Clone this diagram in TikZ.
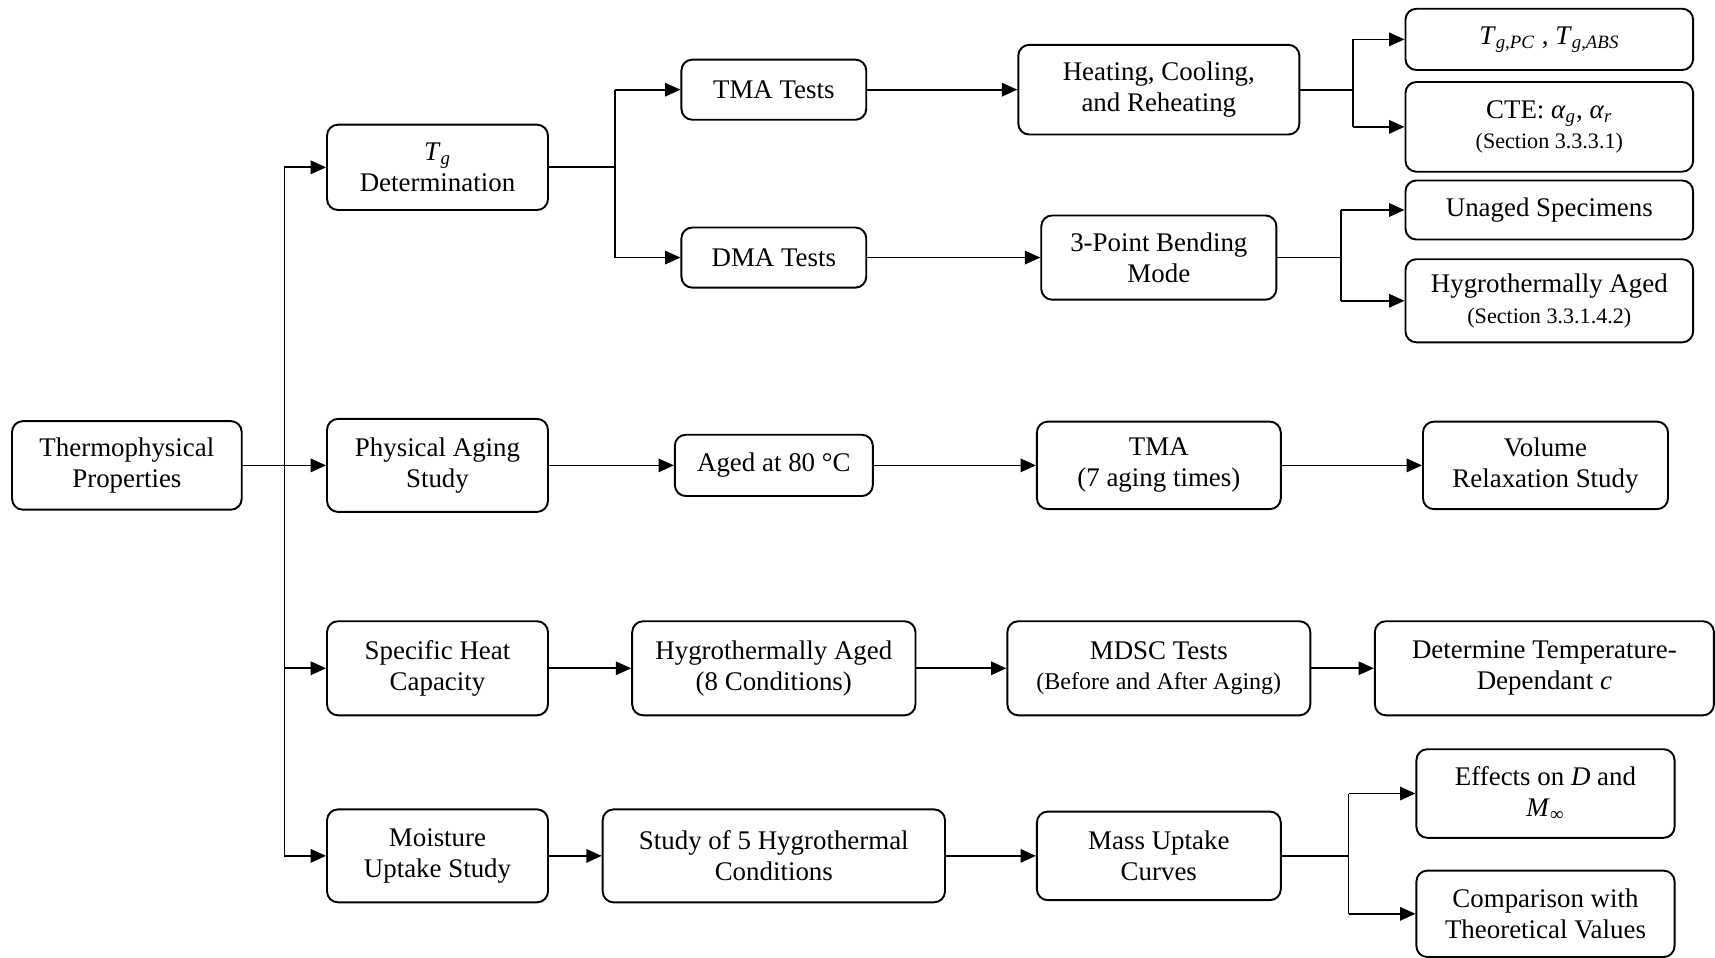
\documentclass[tikz,border=0pt]{standalone}
\usepackage{fontspec}
\setmainfont{Liberation Serif}
\usepackage{tikz}
\usetikzlibrary{arrows.meta,positioning}

\newcommand{\smalltxt}{\fontsize{11.5}{13}\selectfont}
\newcommand{\midtxt}{\fontsize{12.5}{14}\selectfont}

\begin{document}
\begin{tikzpicture}[
  x=0.02cm, y=-0.02cm,
  box/.style={draw, rounded corners=0.2cm, line width=1pt, align=center,
    inner sep=2pt, font=\fontsize{14}{16}\selectfont},
  wd/.style 2 args={minimum width=#1*0.02cm, minimum height=#2*0.02cm},
  line/.style={line width=0.9pt},
  arr/.style={line width=0.9pt, -{Triangle[length=8pt,width=7pt]}}]

  \useasboundingbox (0,0) rectangle (1568,875);

  \node[box, wd={210}{81}] (thermo) at (116,425.5) {Thermophysical\\Properties};

  \node[box, wd={202}{78}] (tg) at (400,153) {\textit{T}\textsubscript{\textit{g}}\\Determination};
  \node[box, wd={202}{85}] (phys) at (400,425.5) {Physical Aging\\Study};
  \node[box, wd={202}{86}] (heat) at (400,611) {Specific Heat\\Capacity};
  \node[box, wd={202}{85}] (moist) at (400,782.5) {Moisture\\Uptake Study};

  \node[box, wd={169}{55}] (tma) at (707.5,82) {TMA Tests};
  \node[box, wd={169}{55}] (dma) at (707.5,235.5) {DMA Tests};
  \node[box, wd={181}{56}] (aged) at (707.5,425.5) {Aged at 80 °C};
  \node[box, wd={259}{86}] (hyg8) at (707.5,611) {Hygrothermally Aged\\(8 Conditions)};
  \node[box, wd={313}{85}] (study) at (707.5,782.5) {Study of 5 Hygrothermal\\Conditions};

  \node[box, wd={257}{82}] (hcr) at (1059.5,82) {Heating, Cooling,\\and Reheating};
  \node[box, wd={215}{77}] (bend) at (1059.5,235.5) {3-Point Bending\\Mode};
  \node[box, wd={223}{80}] (tma7) at (1059.5,425.5) {TMA\\(7 aging times)};
  \node[box, wd={277}{86}] (mdsc) at (1059.5,611) {MDSC Tests\\{\midtxt (Before and After Aging)}};
  \node[box, wd={223}{81}] (mass) at (1059.5,782.5) {Mass Uptake\\Curves};

  \node[box, wd={263}{56}] (tgval) at (1416.5,36) {\textit{T}\textsubscript{\textit{g,PC}} , \textit{T}\textsubscript{\textit{g,ABS}}};
  \node[box, wd={263}{82}] (cte) at (1416.5,116) {CTE: \textit{α}\textsubscript{\textit{g}}, \textit{α}\textsubscript{\textit{r}}\\{\smalltxt (Section 3.3.3.1)}};
  \node[box, wd={263}{54}] (unaged) at (1416.5,192) {Unaged Specimens};
  \node[box, wd={263}{76}] (hygro) at (1416.5,275) {Hygrothermally Aged\\{\smalltxt (Section 3.3.1.4.2)}};
  \node[box, wd={224}{80}] (volume) at (1413,425.5) {Volume\\Relaxation Study};
  \node[box, wd={310}{86}] (detc) at (1412,611) {Determine Temperature-\\Dependant \textit{c}};
  \node[box, wd={236}{81}] (effects) at (1413,725.5) {Effects on \textit{D} and\\\textit{M}\textsubscript{∞}};
  \node[box, wd={236}{79}] (compare) at (1413,835.5) {Comparison with\\Theoretical Values};

  \coordinate (trunk) at (260,0);
  \coordinate (ftg) at (562,0);
  \coordinate (fhcr) at (1237,0);
  \coordinate (fbend) at (1226,0);
  \coordinate (fmass) at (1233,0);

  \draw[line] (thermo) -- (thermo -| trunk);
  \draw[line] (tg -| trunk) -- (moist -| trunk);
  \foreach \n in {tg,phys,heat,moist}
    \draw[arr] (\n -| trunk) -- (\n);

  \draw[line] (tg) -- (tg -| ftg);
  \draw[line] (tma -| ftg) -- (dma -| ftg);
  \foreach \n in {tma,dma}
    \draw[arr] (\n -| ftg) -- (\n);

  \draw[line] (hcr) -- (hcr -| fhcr);
  \draw[line] (tgval -| fhcr) -- (cte -| fhcr);
  \foreach \n in {tgval,cte}
    \draw[arr] (\n -| fhcr) -- (\n);

  \draw[line] (bend) -- (bend -| fbend);
  \draw[line] (unaged -| fbend) -- (hygro -| fbend);
  \foreach \n in {unaged,hygro}
    \draw[arr] (\n -| fbend) -- (\n);

  \draw[line] (mass) -- (mass -| fmass);
  \draw[line] (effects -| fmass) -- (compare -| fmass);
  \foreach \n in {effects,compare}
    \draw[arr] (\n -| fmass) -- (\n);

  \draw[arr] (tma) -- (hcr);
  \draw[arr] (dma) -- (bend);
  \draw[arr] (phys) -- (aged);
  \draw[arr] (aged) -- (tma7);
  \draw[arr] (tma7) -- (volume);
  \draw[arr] (heat) -- (hyg8);
  \draw[arr] (hyg8) -- (mdsc);
  \draw[arr] (mdsc) -- (detc);
  \draw[arr] (moist) -- (study);
  \draw[arr] (study) -- (mass);
\end{tikzpicture}
\end{document}
